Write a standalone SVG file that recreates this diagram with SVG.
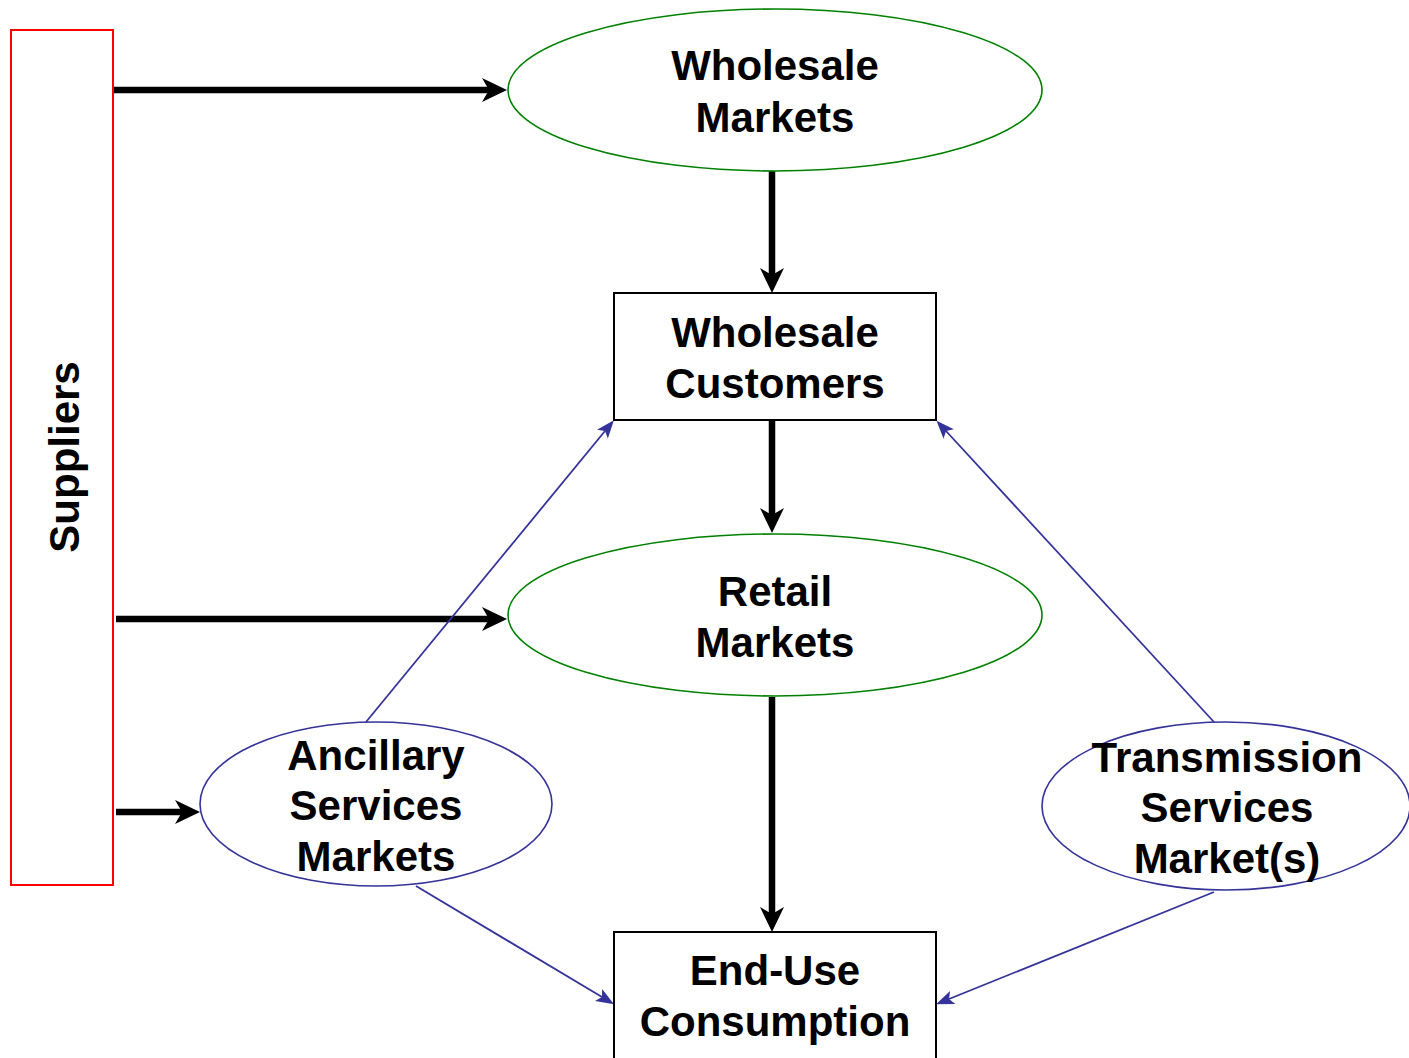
<svg xmlns="http://www.w3.org/2000/svg" width="1409" height="1058" viewBox="0 0 1409 1058">
<style>
.lbl{font-family:"Liberation Sans",Arial,sans-serif;font-weight:bold;font-size:42px;fill:#000;text-anchor:middle}
.green{fill:#fff;stroke:#008000;stroke-width:1.6}
.blue{fill:#fff;stroke:#333399;stroke-width:1.6}
.box{fill:#fff;stroke:#000;stroke-width:2}
.thick{stroke:#000;stroke-width:6.5;fill:none}
.thin{stroke:#333399;stroke-width:1.8;fill:none}
</style>
<defs>
<marker id="ah" markerUnits="userSpaceOnUse" markerWidth="26" markerHeight="24" refX="7" refY="12" orient="auto" overflow="visible">
<path d="M0,0 L25,12 L0,24 L7,12 z" fill="#000"/>
</marker>
<marker id="bh" markerUnits="userSpaceOnUse" markerWidth="19" markerHeight="14" refX="4" refY="7" orient="auto" overflow="visible">
<path d="M0,0 L18,7 L0,14 L4,7 z" fill="#333399"/>
</marker>
</defs>
<rect width="1409" height="1058" fill="#fff"/>
<g id="connectors">
<line class="thick" x1="113" y1="90" x2="489" y2="90" marker-end="url(#ah)"/>
<line class="thick" x1="116" y1="619" x2="489" y2="619" marker-end="url(#ah)"/>
<line class="thick" x1="116" y1="812" x2="182" y2="812" marker-end="url(#ah)"/>
<line class="thick" x1="772" y1="171" x2="772" y2="275" marker-end="url(#ah)"/>
<line class="thick" x1="772" y1="420" x2="772" y2="515" marker-end="url(#ah)"/>
<line class="thick" x1="772" y1="697" x2="772" y2="914" marker-end="url(#ah)"/>
<line class="thin" x1="366" y1="722" x2="605" y2="431" marker-end="url(#bh)"/>
<line class="thin" x1="1214" y1="722" x2="946" y2="431" marker-end="url(#bh)"/>
<line class="thin" x1="416" y1="886" x2="602" y2="997" marker-end="url(#bh)"/>
<line class="thin" x1="1214" y1="892" x2="949" y2="999" marker-end="url(#bh)"/>
</g>
<g id="suppliers">
<rect x="11" y="30" width="102" height="855" fill="none" stroke="#ff0000" stroke-width="2"/>
<text class="lbl" transform="translate(79,457) rotate(-90)" x="0" y="0">Suppliers</text>
</g>
<g id="wholesale-markets">
<ellipse class="green" cx="775" cy="90" rx="267" ry="81"/>
<text class="lbl" x="775" y="80">Wholesale</text>
<text class="lbl" x="775" y="132">Markets</text>
</g>
<g id="wholesale-customers">
<rect class="box" x="614" y="293" width="322" height="127"/>
<text class="lbl" x="775" y="347">Wholesale</text>
<text class="lbl" x="775" y="398">Customers</text>
</g>
<g id="retail-markets">
<ellipse class="green" cx="775" cy="615" rx="267" ry="81"/>
<text class="lbl" x="775" y="606">Retail</text>
<text class="lbl" x="775" y="657">Markets</text>
</g>
<g id="ancillary">
<ellipse class="blue" cx="376" cy="804" rx="176" ry="82"/>
<text class="lbl" x="376" y="770">Ancillary</text>
<text class="lbl" x="376" y="820">Services</text>
<text class="lbl" x="376" y="871">Markets</text>
</g>
<g id="transmission">
<ellipse class="blue" cx="1226" cy="806" rx="184" ry="84"/>
<text class="lbl" x="1227" y="772">Transmission</text>
<text class="lbl" x="1227" y="822">Services</text>
<text class="lbl" x="1227" y="873">Market(s)</text>
</g>
<g id="end-use">
<rect class="box" x="614" y="932" width="322" height="140"/>
<text class="lbl" x="775" y="985">End-Use</text>
<text class="lbl" x="775" y="1036">Consumption</text>
</g>
</svg>
